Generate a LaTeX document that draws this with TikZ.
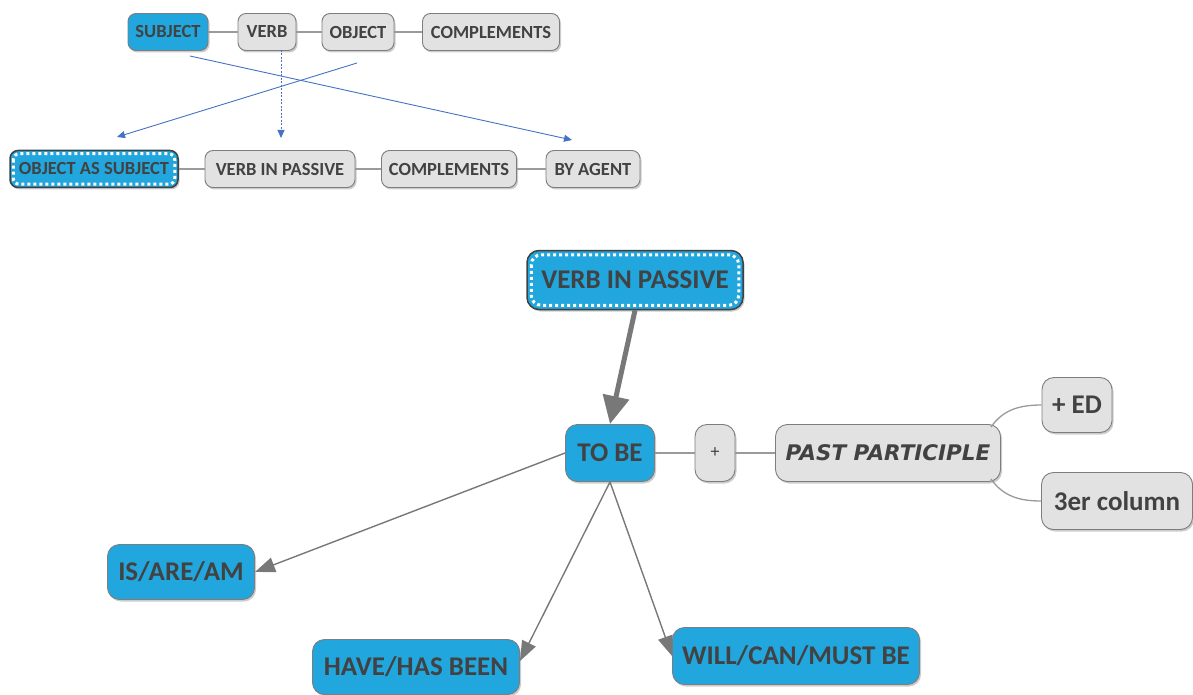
\documentclass[tikz,border=0pt]{standalone}
\usepackage{fontspec}
\setmainfont{Carlito}
\newfontfamily\handfont{DejaVu Sans}
\usepackage{tikz}
\usetikzlibrary{calc,shadows,arrows.meta}

\definecolor{mapblue}{RGB}{33,166,221}
\definecolor{mapgray}{RGB}{226,226,226}
\definecolor{mapedge}{RGB}{125,125,125}
\definecolor{maptext}{RGB}{66,66,66}
\definecolor{linkblue}{RGB}{68,114,196}
\definecolor{linkgray}{RGB}{120,120,120}

\tikzset{
  topic/.style={draw=mapedge, line width=0.9pt, rounded corners=8pt, fill=mapgray,
    text=maptext, inner sep=0pt,
    drop shadow={opacity=0.4, shadow xshift=1.5pt, shadow yshift=-2pt}},
  bluetopic/.style={topic, fill=mapblue},
  framed/.style={draw=black!75, line width=1.5pt},
  smalltext/.style={font=\fontsize{18.5}{18.5}\selectfont\bfseries, minimum height=37pt},
  bigtext/.style={font=\fontsize{27}{27}\selectfont\bfseries, minimum height=57pt, rounded corners=12pt},
  rowlink/.style={draw=linkgray!75, line width=1.3pt},
  bluearrow/.style={draw=linkblue, line width=0.9pt, -{Triangle[length=8pt,width=7pt]}},
  grayarrow/.style={draw=linkgray, line width=1.4pt, -{Triangle[length=20pt,width=15pt]}},
  dotline/.style={white, line width=3pt, dash pattern=on 3pt off 3pt},
}

\begin{document}
\begin{tikzpicture}[x=1pt, y=-1pt]

  \useasboundingbox (0,0) rectangle (1193,695);

  % active voice
  \node[bluetopic, smalltext, minimum width=80pt]  (subj) at (168,32) {SUBJECT};
  \node[topic, smalltext, minimum width=58pt]      (verb) at (267,32) {VERB};
  \node[topic, smalltext, minimum width=72pt]      (obj)  at (358,32) {OBJECT};
  \node[topic, smalltext, minimum width=137pt]     (comp) at (491,32) {COMPLEMENTS};

  \draw[rowlink] (subj) -- (verb);
  \draw[rowlink] (verb) -- (obj);
  \draw[rowlink] (obj) -- (comp);

  % passive voice
  \node[bluetopic, framed, smalltext, minimum width=168pt] (objsubj) at (94,169) {OBJECT AS SUBJECT};
  \node[topic, smalltext, minimum width=150pt]  (vip)   at (280,169) {VERB IN PASSIVE};
  \node[topic, smalltext, minimum width=135pt]  (comp2) at (449,169) {COMPLEMENTS};
  \node[topic, smalltext, minimum width=94pt]   (agent) at (593,169) {BY AGENT};

  \draw[rowlink] (objsubj) -- (vip);
  \draw[rowlink] (vip) -- (comp2);
  \draw[rowlink] (comp2) -- (agent);

  \draw[dotline, rounded corners=6pt] ($(objsubj.north west)+(4,4)$) rectangle ($(objsubj.south east)+(-4,-4)$);

  \coordinate (subjtail) at (190,56);
  \coordinate (agenthead) at (572,140);
  \coordinate (objtail) at (357,63);
  \coordinate (objsubjhead) at (117,137);
  \coordinate (verbtail) at (281,50);
  \coordinate (viphead) at (281,138);

  \draw[bluearrow] (subjtail) -- (agenthead);
  \draw[bluearrow] (objtail) -- (objsubjhead);
  \draw[bluearrow, dash pattern=on 2pt off 1.5pt] (verbtail) -- (viphead);

  % verb in passive
  \node[bluetopic, framed, bigtext, minimum width=216pt, minimum height=59pt] (vipbig) at (635,280) {VERB IN PASSIVE};
  \draw[dotline, rounded corners=10pt] ($(vipbig.north west)+(5,5)$) rectangle ($(vipbig.south east)+(-5,-5)$);

  \node[bluetopic, bigtext, minimum width=89pt]  (tobe) at (610,453) {TO BE};
  \node[topic, bigtext, minimum width=40pt, font=\fontsize{18}{18}\selectfont] (plus) at (715,453) {+};
  \node[topic, bigtext, minimum width=225pt, font=\handfont\fontsize{21.5}{21.5}\selectfont\bfseries\itshape] (pp) at (888,453) {PAST PARTICIPLE};
  \node[topic, bigtext, minimum width=70pt, minimum height=55pt] (ed)  at (1077,405) {+ ED};
  \node[topic, bigtext, minimum width=151pt] (col) at (1117,501) {3er column};

  \node[bluetopic, bigtext, minimum width=147pt, minimum height=55pt] (isare) at (181,572) {IS/ARE/AM};
  \node[bluetopic, bigtext, minimum width=207pt, minimum height=55pt] (have)  at (416,667) {HAVE/HAS BEEN};
  \node[bluetopic, bigtext, minimum width=247pt] (will) at (796,656) {WILL/CAN/MUST BE};

  \draw[rowlink] (tobe) -- (plus);
  \draw[rowlink] (plus) -- (pp);
  \draw[rowlink] ($(pp.north east)+(-10,3)$) to[out=55,in=180] (ed.west);
  \draw[rowlink] ($(pp.south east)+(-10,-3)$) to[out=-55,in=180] (col.west);

  \draw[grayarrow, line width=5pt, -{Triangle[length=28pt,width=26pt]}] (vipbig.south) -- (tobe.north);
  \draw[grayarrow] (tobe.west) -- (isare.east);
  \draw[grayarrow] (tobe.south) -- ($(have.east)+(0,-6)$);
  \draw[grayarrow] (tobe.south) -- (will.west);

\end{tikzpicture}
\end{document}
